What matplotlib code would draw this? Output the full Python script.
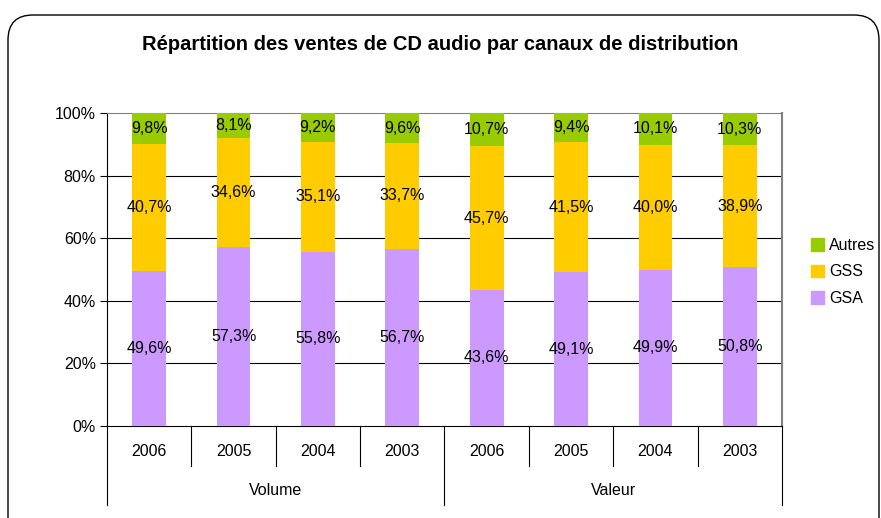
import matplotlib.pyplot as plt
import matplotlib.patches as mpatches
from matplotlib.lines import Line2D
import numpy as np

plt.rcParams['font.family'] = ['Liberation Sans', 'DejaVu Sans']

# data (percent)
years = ["2006", "2005", "2004", "2003", "2006", "2005", "2004", "2003"]
groups = ["Volume", "Valeur"]
gsa = [49.6, 57.3, 55.8, 56.7, 43.6, 49.1, 49.9, 50.8]
gss = [40.7, 34.6, 35.1, 33.7, 45.7, 41.5, 40.0, 38.9]
autres = [9.8, 8.1, 9.2, 9.6, 10.7, 9.4, 10.1, 10.3]

c_gsa = "#CC99FF"
c_gss = "#FFCC00"
c_autres = "#99CC00"

fig = plt.figure(figsize=(8.81, 5.18), dpi=100)

# rounded border around the chart
border = mpatches.FancyBboxPatch((0.08, -0.5), 8.71, 5.53,
                                 boxstyle="round,pad=0,rounding_size=0.25",
                                 transform=fig.dpi_scale_trans,
                                 facecolor="none", edgecolor="black", linewidth=1.0)
fig.patches.append(border)

ax = fig.add_axes([107/881, 1-426/518, 675/881, 313/518])

x = np.arange(len(years))
tot = np.array(gsa) + np.array(gss) + np.array(autres)
p_gsa = np.array(gsa) / tot
p_gss = np.array(gss) / tot
p_aut = np.array(autres) / tot

fs = 11.5
w = 0.4
ax.bar(x, p_gsa, w, color=c_gsa, zorder=3, label="GSA")
ax.bar(x, p_gss, w, bottom=p_gsa, color=c_gss, zorder=3, label="GSS")
ax.bar(x, p_aut, w, bottom=p_gsa + p_gss, color=c_autres, zorder=3, label="Autres")

def fmt(v):
    return ("%.1f%%" % v).replace(".", ",")

for i in range(len(years)):
    ax.text(x[i], p_gsa[i] / 2, fmt(gsa[i]), ha="center", va="center", fontsize=fs, zorder=4)
    ax.text(x[i], p_gsa[i] + p_gss[i] / 2, fmt(gss[i]), ha="center", va="center", fontsize=fs, zorder=4)
    ax.text(x[i], p_gsa[i] + p_gss[i] + p_aut[i] / 2, fmt(autres[i]), ha="center", va="center", fontsize=fs, zorder=4)

ax.set_xlim(-0.5, len(years) - 0.5)
ax.set_ylim(0, 1)
ax.set_yticks([0, 0.2, 0.4, 0.6, 0.8, 1.0])
ax.set_yticklabels(["0%", "20%", "40%", "60%", "80%", "100%"], fontsize=fs)
ax.tick_params(axis="y", length=5, width=0.8, pad=3)
ax.set_xticks([])
for yv in [0.2, 0.4, 0.6, 0.8]:
    ax.axhline(yv, color="black", linewidth=0.8, zorder=1)

ax.spines["top"].set_color("#808080")
ax.spines["right"].set_color("#808080")
ax.spines["right"].set_linewidth(1.5)
ax.spines["left"].set_linewidth(0.8)
ax.spines["bottom"].set_linewidth(0.8)

# two-level category axis
for i, lab in enumerate(years):
    ax.text(x[i], -0.08, lab, transform=ax.get_xaxis_transform(),
            ha="center", va="center", fontsize=fs)
for g, lab in enumerate(groups):
    ax.text(1.5 + 4 * g, -0.205, lab, transform=ax.get_xaxis_transform(),
            ha="center", va="center", fontsize=fs)
for k in range(len(years) + 1):
    xs = k - 0.5
    ybot = -0.252 if k % 4 == 0 else -0.128
    ax.add_line(Line2D([xs, xs], [0, ybot], transform=ax.get_xaxis_transform(),
                       color="black", linewidth=0.8, clip_on=False))

handles = [mpatches.Patch(color=c_autres, label="Autres"),
           mpatches.Patch(color=c_gss, label="GSS"),
           mpatches.Patch(color=c_gsa, label="GSA")]
fig.legend(handles=handles, loc="upper left", bbox_to_anchor=(811/881, 1-238/518),
           frameon=False, fontsize=11.5, handlelength=0.8, handleheight=0.8,
           handletextpad=0.35, labelspacing=0.72, borderaxespad=0, borderpad=0)

fig.text(0.5, 1-45/518, "Répartition des ventes de CD audio par canaux de distribution",
         ha="center", va="center", fontsize=14.5, fontweight="bold")

fig.savefig("out.png", dpi=100)
